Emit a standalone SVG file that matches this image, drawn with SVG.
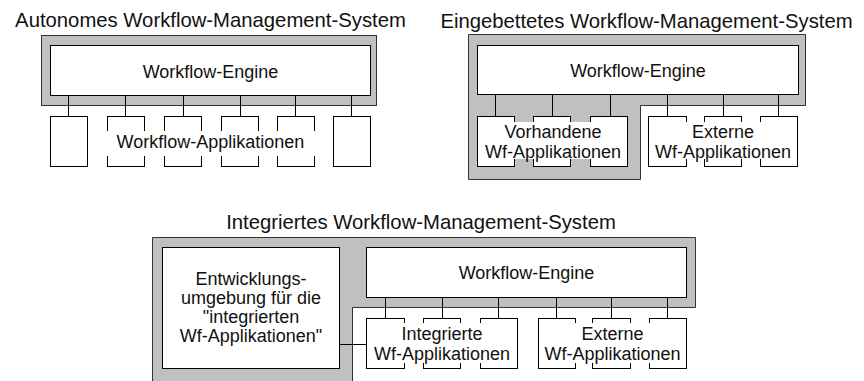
<svg xmlns="http://www.w3.org/2000/svg" width="864" height="381" viewBox="0 0 864 381">
  <style>
    .frame { fill: #c0c0c0; stroke: #333; stroke-width: 1; }
    .box { fill: #fff; stroke: #000; stroke-width: 1; }
    .bg { fill: #fff; stroke: none; }
    .wire { fill: none; stroke: #000; stroke-width: 1; }
    text { font-family: "Liberation Sans", Arial, sans-serif; fill: #111; }
    .title { font-size: 20.3px; text-anchor: middle; }
    .lbl { font-size: 18px; text-anchor: middle; }
  </style>
  <rect width="864" height="381" fill="#fff"/>

  <!-- Autonomes Workflow-Management-System -->
  <text class="title" x="210.5" y="27">Autonomes Workflow-Management-System</text>
  <g id="autonom-system">
    <rect class="frame" x="41.5" y="35.5" width="335" height="70"/>
  </g>
  <g id="autonom-engine">
    <rect class="box" x="50.5" y="45.5" width="320" height="50"/>
    <text class="lbl" x="210.5" y="77.5">Workflow-Engine</text>
  </g>
  <g id="autonom-connectors">
    <path class="wire" d="M68.5,95.5V116.5M125.5,95.5V116.5M183.5,95.5V116.5M240.5,95.5V116.5M295.5,95.5V116.5M351.5,95.5V116.5"/>
  </g>
  <g id="autonom-apps">
    <rect class="box" x="50.5" y="116.5" width="37" height="50"/>
    <rect class="box" x="107.5" y="116.5" width="37" height="50"/>
    <rect class="box" x="164.5" y="116.5" width="37" height="50"/>
    <rect class="box" x="221.5" y="116.5" width="37" height="50"/>
    <rect class="box" x="277.5" y="116.5" width="37" height="50"/>
    <rect class="box" x="333.5" y="116.5" width="37" height="50"/>
    <rect class="bg" x="105" y="131" width="212" height="25"/>
    <text class="lbl" x="210.5" y="148">Workflow-Applikationen</text>
  </g>

  <!-- Eingebettetes Workflow-Management-System -->
  <text class="title" x="646.5" y="28">Eingebettetes Workflow-Management-System</text>
  <g id="embedded-system">
    <path class="frame" d="M468.5,34.5H805.5V105.5H640.5V179.5H468.5Z"/>
  </g>
  <g id="embedded-engine">
    <rect class="box" x="477.5" y="45.5" width="321" height="49"/>
    <text class="lbl" x="638" y="77">Workflow-Engine</text>
  </g>
  <g id="embedded-connectors">
    <path class="wire" d="M495.5,94.5V116.5M552.5,94.5V116.5M610.5,94.5V116.5M667.5,94.5V116.5M723.5,94.5V116.5M778.5,94.5V116.5"/>
  </g>
  <g id="embedded-existing-apps">
    <rect class="box" x="477.5" y="116.5" width="37" height="50"/>
    <rect class="box" x="533.5" y="116.5" width="37" height="50"/>
    <rect class="box" x="590.5" y="116.5" width="37" height="50"/>
    <rect class="bg" x="479" y="122" width="148" height="37"/>
    <text class="lbl" x="553" y="137.5">Vorhandene</text>
    <text class="lbl" x="553" y="158">Wf-Applikationen</text>
  </g>
  <g id="embedded-external-apps">
    <rect class="box" x="648.5" y="116.5" width="38" height="50"/>
    <rect class="box" x="704.5" y="116.5" width="37" height="50"/>
    <rect class="box" x="760.5" y="116.5" width="37" height="50"/>
    <rect class="bg" x="650" y="122" width="146" height="37"/>
    <text class="lbl" x="723" y="137.5">Externe</text>
    <text class="lbl" x="723" y="158">Wf-Applikationen</text>
  </g>

  <!-- Integriertes Workflow-Management-System -->
  <text class="title" x="421" y="229">Integriertes Workflow-Management-System</text>
  <g id="integrated-system">
    <path class="frame" d="M152.5,237.5H695.5V307.5H352.5V392H152.5Z"/>
  </g>
  <g id="integrated-devenv">
    <rect class="box" x="162.5" y="247.5" width="177" height="121"/>
    <text class="lbl" x="251" y="285">Entwicklungs-</text>
    <text class="lbl" x="251" y="304">umgebung für die</text>
    <text class="lbl" x="251" y="322.5">"integrierten</text>
    <text class="lbl" x="251" y="341.5">Wf-Applikationen"</text>
  </g>
  <g id="integrated-engine">
    <rect class="box" x="366.5" y="247.5" width="320" height="50"/>
    <text class="lbl" x="526.5" y="278.5">Workflow-Engine</text>
  </g>
  <g id="integrated-connectors">
    <path class="wire" d="M385.5,297.5V318.5M442.5,297.5V318.5M498.5,297.5V318.5M556.5,297.5V318.5M611.5,297.5V318.5M667.5,297.5V318.5M339.5,344.5H366.5"/>
  </g>
  <g id="integrated-apps">
    <rect class="box" x="366.5" y="318.5" width="38" height="50"/>
    <rect class="box" x="423.5" y="318.5" width="37" height="50"/>
    <rect class="box" x="480.5" y="318.5" width="37" height="50"/>
    <rect class="bg" x="368" y="323" width="148" height="40"/>
    <text class="lbl" x="442" y="339.5">Integrierte</text>
    <text class="lbl" x="442" y="360">Wf-Applikationen</text>
  </g>
  <g id="integrated-external-apps">
    <rect class="box" x="538.5" y="318.5" width="37" height="50"/>
    <rect class="box" x="592.5" y="318.5" width="38" height="50"/>
    <rect class="box" x="649.5" y="318.5" width="37" height="50"/>
    <rect class="bg" x="540" y="323" width="145" height="40"/>
    <text class="lbl" x="612.5" y="339.5">Externe</text>
    <text class="lbl" x="612.5" y="360">Wf-Applikationen</text>
  </g>
</svg>
